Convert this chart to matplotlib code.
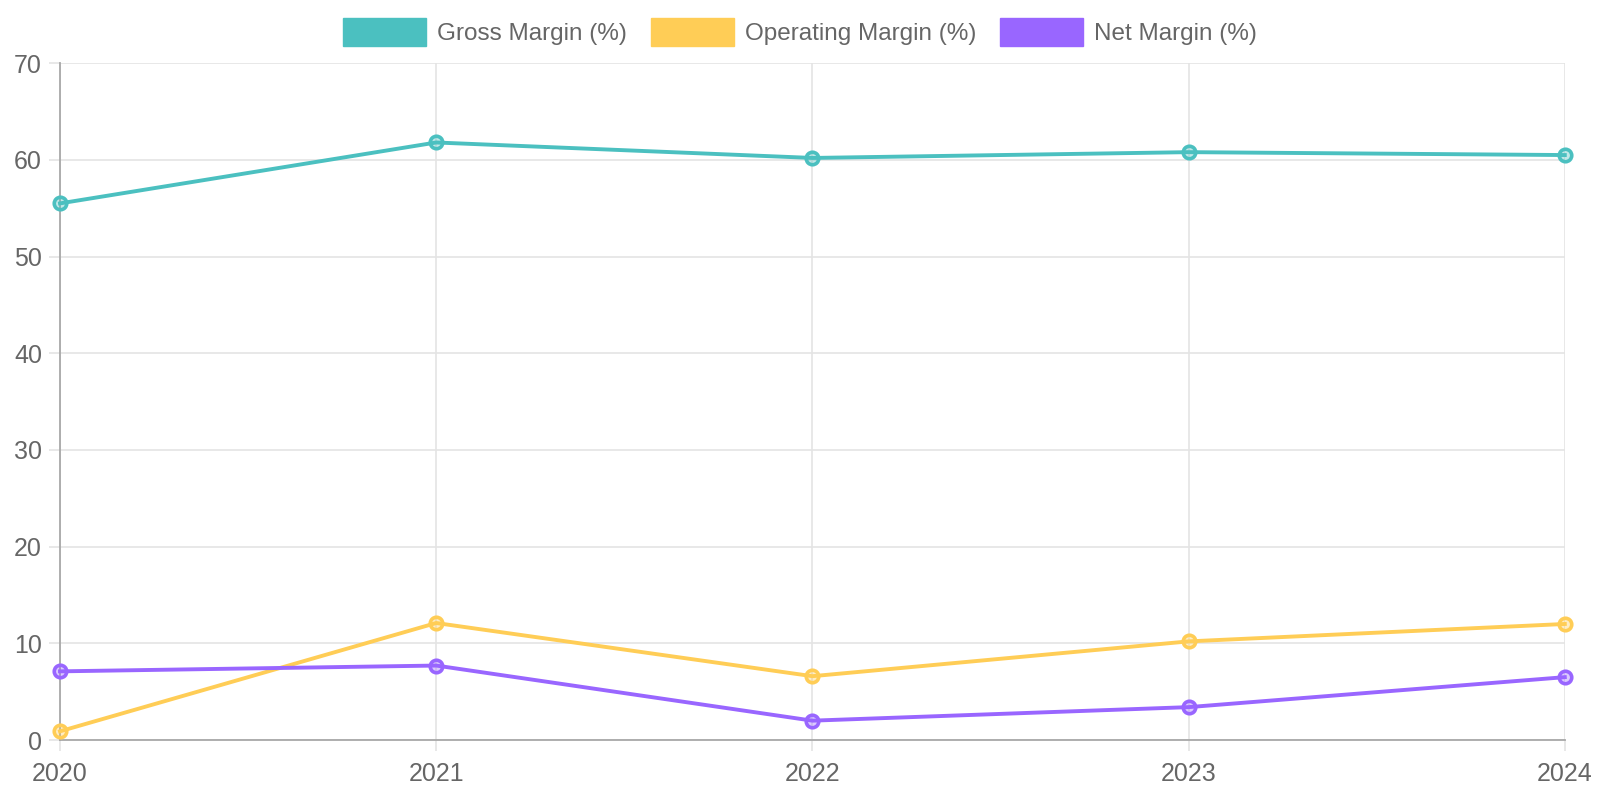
import matplotlib.pyplot as plt
from matplotlib.patches import Patch
from matplotlib.colors import to_rgba
import numpy as np

years = ['2020', '2021', '2022', '2023', '2024']
gross_margin = [55.5, 61.8, 60.2, 60.8, 60.5]
operating_margin = [0.9, 12.1, 6.6, 10.2, 12.0]
net_margin = [7.1, 7.7, 2.0, 3.4, 6.5]

series_labels = ['Gross Margin (%)', 'Operating Margin (%)', 'Net Margin (%)']
colors = ['#4BC0C0', '#FFCD56', '#9966FF']

plt.rcParams['font.family'] = ['Liberation Sans', 'DejaVu Sans']
text_color = '#666666'
grid_color = '#e4e4e4'

fig = plt.figure(figsize=(16, 8), dpi=100)
ax = fig.add_axes([0.0375, 0.075, 0.9405, 0.846])

x = np.arange(len(years))
for ys, c, lab in zip([gross_margin, operating_margin, net_margin], colors, series_labels):
    ax.plot(x, ys, color=c, linewidth=2.8, marker='o', markersize=9,
            markeredgewidth=2.6, markeredgecolor=c, markerfacecolor=to_rgba(c, 0.35),
            label=lab, zorder=3, clip_on=False)

ax.set_xlim(0, len(years) - 1)
ax.set_ylim(0, 70)
ax.set_xticks(x)
ax.set_xticklabels(years)
ax.set_yticks(np.arange(0, 71, 10))

ax.grid(True, color=grid_color, linewidth=1.2)
ax.set_axisbelow(True)
for side in ['top', 'right']:
    ax.spines[side].set_visible(False)
for side in ['left', 'bottom']:
    ax.spines[side].set_color('#a8a8a8')
    ax.spines[side].set_linewidth(1.3)

ax.tick_params(axis='both', colors=grid_color, labelcolor=text_color, labelsize=18,
               length=8, width=1.2)
ax.tick_params(axis='y', pad=5)
ax.tick_params(axis='x', pad=8)

handles = [Patch(facecolor=c, edgecolor=c) for c in colors]
fig.legend(handles, series_labels, loc='center', bbox_to_anchor=(0.5, 0.96), ncol=3,
           frameon=False, fontsize=17.5, labelcolor=text_color,
           handlelength=3.4, handleheight=1.35, handletextpad=0.45, columnspacing=1.0)

fig.savefig('out.png', dpi=100)
